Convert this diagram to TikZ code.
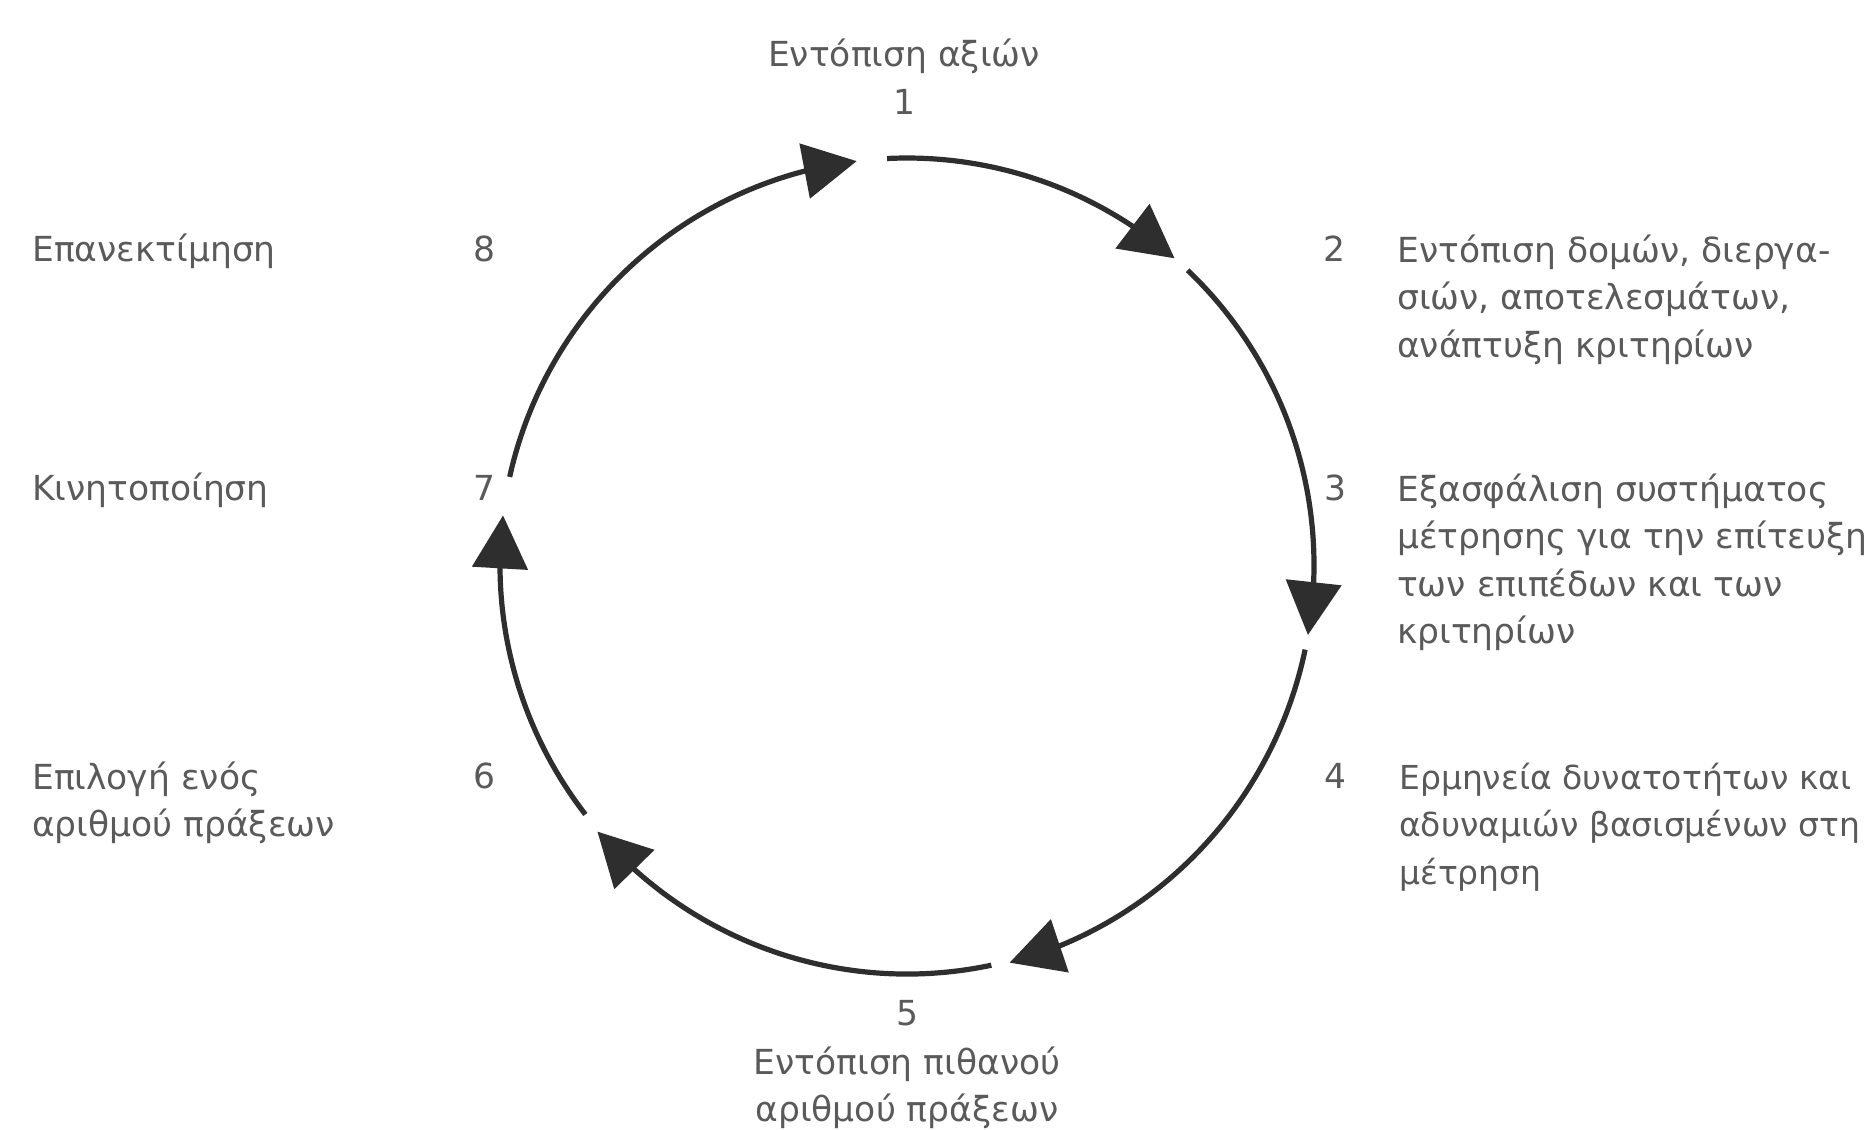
\documentclass[tikz,border=0pt]{standalone}
\usepackage{fontspec}
\setmainfont{DejaVu Sans}
\usetikzlibrary{arrows.meta,bending}
\definecolor{txt}{HTML}{5A5A5A}
\definecolor{ln}{HTML}{2E2E2E}
\begin{document}
\begin{tikzpicture}[x=1pt,y=1pt,
  lbl/.style={inner sep=0pt, text=txt, font=\fontsize{34.5}{47.5}\selectfont},
  lblsm/.style={inner sep=0pt, text=txt, font=\fontsize{33}{47.5}\selectfont},
  cyc/.style={draw=ln, line width=5.2pt, -{Triangle[length=53pt,width=55pt]}}]
\useasboundingbox[fill=white] (0,0) rectangle (1872,-1130);
\coordinate (C) at (907,-565);
% arc start points on the cycle
\coordinate (s1) at ([shift={(92.8:407)}]C);
\coordinate (s2) at ([shift={(46.4:407)}]C);
\coordinate (s3) at ([shift={(-12:407)}]C);
\coordinate (s5) at ([shift={(-78.1:409)}]C);
\coordinate (s6) at ([shift={(-142.2:407)}]C);
\coordinate (s7) at ([shift={(-192.5:407)}]C);
% arcs
\draw[cyc] (s1) arc[start angle=92.8, end angle=48.9, radius=407];
\draw[cyc] (s2) arc[start angle=46.4, end angle=-9.9, radius=407];
\draw[cyc] (s3) arc[start angle=-12, end angle=-75.4, x radius=407, y radius=412];
\draw[cyc] (s5) arc[start angle=-78.1, end angle=-139.2, x radius=409, y radius=411];
\draw[cyc] (s6) arc[start angle=-142.2, end angle=-187, radius=407];
\draw[cyc] (s7) arc[start angle=-192.5, end angle=-262.9, radius=407];
% labels
\node[lbl, anchor=mid] (t1) at (904,-64) {Εντόπιση αξιών};
\node[lbl, anchor=mid] (n1) at (904,-112) {1};
\node[lbl, anchor=mid] (n2) at (1334,-259) {2};
\node[lbl, anchor=base west, align=left] (t2) at (1397,-357.4) {Εντόπιση δομών, διεργα-\\σιών, αποτελεσμάτων,\\ανάπτυξη κριτηρίων};
\node[lbl, anchor=mid] (n3) at (1335,-498) {3};
\node[lbl, anchor=base west, align=left] (t3) at (1397,-643.9) {Εξασφάλιση συστήματος\\μέτρησης για την επίτευξη\\των επιπέδων και των\\κριτηρίων};
\node[lbl, anchor=mid] (n4) at (1335,-786) {4};
\node[lblsm, anchor=base west, align=left] (t4) at (1399,-884) {Ερμηνεία δυνατοτήτων και\\αδυναμιών βασισμένων στη\\μέτρηση};
\node[lbl, anchor=mid] (n5) at (907,-1023) {5};
\node[lbl, anchor=base, align=center] (t5) at (907,-1121.5) {Εντόπιση πιθανού\\αριθμού πράξεων};
\node[lbl, anchor=mid] (n6) at (484,-786) {6};
\node[lbl, anchor=base west, align=left] (t6) at (32,-836.9) {Επιλογή ενός\\αριθμού πράξεων};
\node[lbl, anchor=mid] (n7) at (484,-498) {7};
\node[lbl, anchor=mid west] (t7) at (32,-498) {Κινητοποίηση};
\node[lbl, anchor=mid] (n8) at (484,-259) {8};
\node[lbl, anchor=mid west] (t8) at (32,-259) {Επανεκτίμηση};
\end{tikzpicture}
\end{document}
